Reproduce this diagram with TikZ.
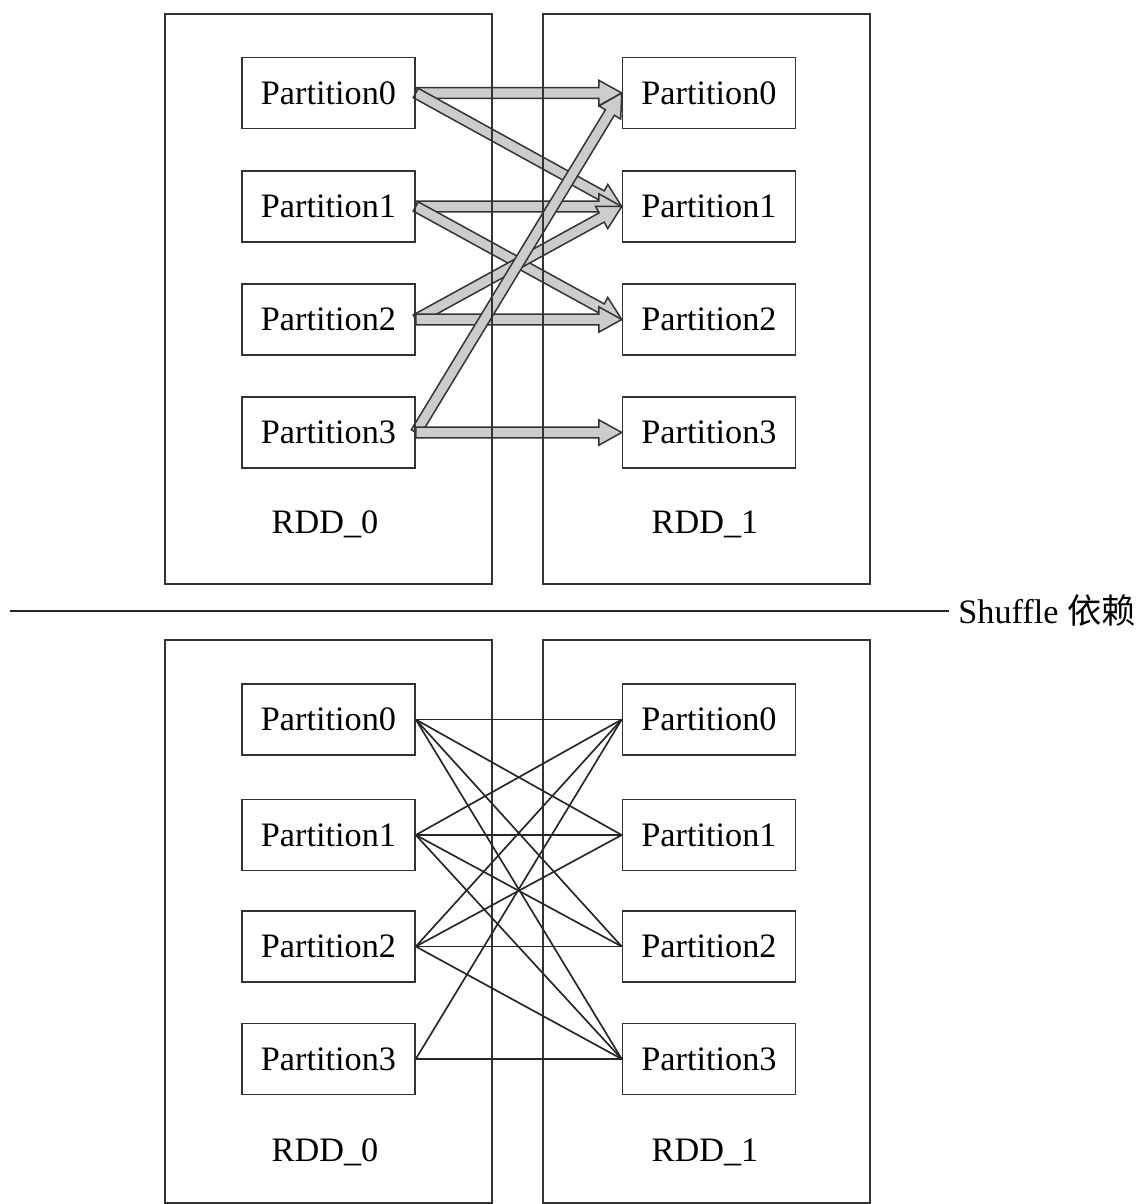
\documentclass[tikz,border=0pt]{standalone}
\usepackage{fontspec}
\setmainfont{Liberation Serif}
\newfontfamily\cjk{Noto Sans CJK SC}
\usetikzlibrary{calc}
\pgfdeclarelayer{bg}
\pgfsetlayers{bg,main}

\tikzset{
  part/.style={draw=black!80, line width=0.9pt, minimum width=3.46cm,
    minimum height=1.42cm, inner sep=0pt, font=\fontsize{19.5}{23}\selectfont},
  rddbox/.style={draw=black!80, line width=0.9pt, minimum width=6.54cm, inner sep=0pt},
  lbl/.style={font=\fontsize{19.5}{23}\selectfont, inner sep=0pt},
  fatbody/.style={draw=black!80, line width=0.85pt, fill=black!20, line join=miter},
  link/.style={draw=black!85, line width=0.95pt}
}

% hollow block arrow from the east side of #1 to the west side of #2
\newcommand\blockarrow[2]{%
  \path let \p1=(#1.east), \p2=(#2.west),
    \n1={atan2(\y2-\y1,\x2-\x1)}, \n2={veclen(\x2-\x1,\y2-\y1)} in
    \pgfextra{\pgfmathsetmacro\tmpa{\n1}\xdef\baang{\tmpa}%
      \pgfmathsetmacro\tmpb{\n2}\xdef\balen{\tmpb}%
      \xdef\bax{\x1}\xdef\bay{\y1}};
  \begin{scope}[shift={(\bax,\bay)}, rotate=\baang]
    \draw[fatbody] (0pt,-3pt) -- (\balen pt-13pt,-3pt) -- (\balen pt-13pt,-7.2pt)
      -- (\balen pt,0pt) -- (\balen pt-13pt,7.2pt) -- (\balen pt-13pt,3pt)
      -- (0pt,3pt) -- cycle;
  \end{scope}}

\begin{document}
\begin{tikzpicture}[x=0.02cm, y=-0.02cm]
\useasboundingbox (0,0) rectangle (1141,1204);

% ---------- upper diagram: narrow dependencies ----------
\node[rddbox, minimum height=11.4cm] (ua) at (328.5,299) {};
\node[rddbox, minimum height=11.4cm] (ub) at (706.5,299) {};
\foreach \i/\y in {0/93,1/206.5,2/319.5,3/432.5} {
  \node[part] (tl\i) at (328.5,\y) {Partition\i};
  \node[part] (tr\i) at (709,\y) {Partition\i};
}
\node[lbl] (ula) at (325,524) {RDD\_0};
\node[lbl] (ulb) at (705,524) {RDD\_1};

\begin{pgfonlayer}{bg}
  \foreach \a/\b in {0/0,0/1,1/1,1/2,2/1,2/2,3/0,3/3} {
    \blockarrow{tl\a}{tr\b}
  }
\end{pgfonlayer}

% ---------- separator ----------
\coordinate (sepL) at (10,611);
\node[lbl, anchor=west] (shuf) at (958,611) {Shuffle {\cjk 依赖}};
\draw[link] (sepL) -- ([xshift=-5pt]shuf.west);

% ---------- lower diagram: shuffle dependencies ----------
\node[rddbox, minimum height=11.26cm] (la) at (328.5,921.5) {};
\node[rddbox, minimum height=11.26cm] (lb) at (706.5,921.5) {};
\foreach \i/\y in {0/719.5,1/835,2/946.5,3/1059} {
  \node[part] (bl\i) at (328.5,\y) {Partition\i};
  \node[part] (br\i) at (709,\y) {Partition\i};
}
\node[lbl] (lla) at (325,1152) {RDD\_0};
\node[lbl] (llb) at (705,1152) {RDD\_1};

\foreach \a/\b in {0/0,0/1,0/2,0/3,1/0,1/1,1/2,1/3,2/0,2/1,2/2,2/3,3/0,3/3} {
  \draw[link] (bl\a.east) -- (br\b.west);
}
\end{tikzpicture}
\end{document}
